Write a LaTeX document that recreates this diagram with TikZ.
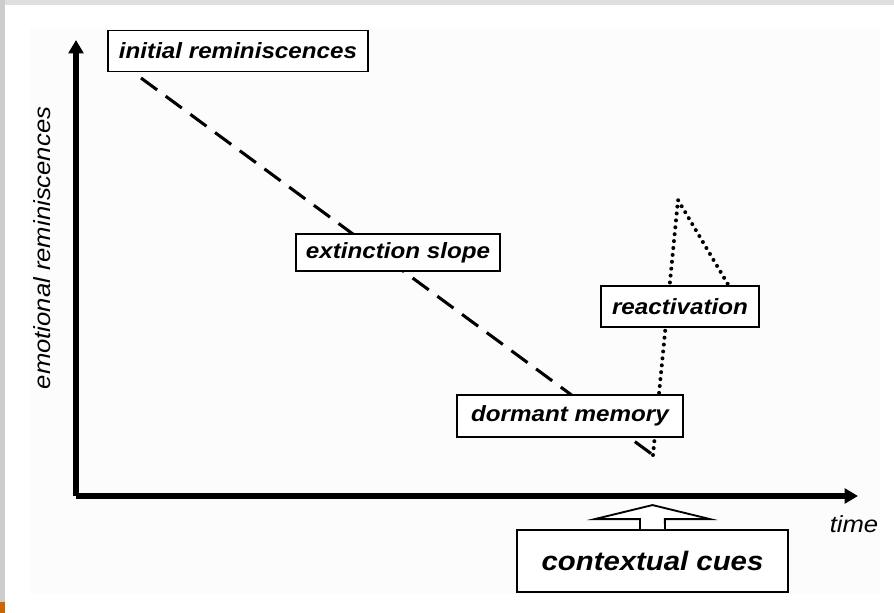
\documentclass[tikz,border=0pt]{standalone}
\usepackage{fontspec}
\setmainfont{Liberation Sans}[FakeStretch=1.1]
\usetikzlibrary{arrows.meta}

\begin{document}
\begin{tikzpicture}[x=0.75pt,y=-0.75pt,
  phase/.style={draw=black,line width=1.4pt,fill=white,inner sep=0pt,
    font=\fontsize{16.5}{18}\selectfont\bfseries\itshape},
  axis/.style={line width=3.8pt,-{Triangle[length=10pt,width=11pt]}},
  slope/.style={line width=2.3pt,dash pattern=on 15pt off 8pt},
  burst/.style={line width=3pt,line cap=round,dash pattern=on 0pt off 5.2pt},
  axislabel/.style={font=\fontsize{17.5}{19}\selectfont\itshape,inner sep=0pt}]
\useasboundingbox (0,0) rectangle (894,613);
% frame
\fill [white] (0,0) rectangle (894,613);
\fill [black!13] (0,0) rectangle (894,5);
\fill [black!20] (0,0) rectangle (5,613);
\fill [orange!80!black] (0,602) rectangle (5,613);
\fill [black!1.2] (30,28) rectangle (880,594);

% axes
\coordinate (origin) at (76,496);
\coordinate (ytip) at (76,40);
\coordinate (xtip) at (858,496);
\draw [axis] (origin) -- (ytip);
\draw [axis] (origin) -- (xtip);
\node [axislabel] (time) at (854,524) {time};
\node [axislabel,rotate=90] (ylab) at (42,248) {emotional reminiscences};

% curves, boxes go on top of them
\coordinate (start) at (141,78);
\coordinate (low) at (653,455);
\coordinate (peak) at (678,200);
\coordinate (back) at (755,330);
\draw [slope] (start) -- (low);
\draw [burst] (low) -- (peak) -- (back);

\node [phase,minimum width=195pt,minimum height=30.8pt] (initial) at (238,51) {initial reminiscences};
\node [phase,minimum width=153pt,minimum height=27.8pt] (extinction) at (398,252.5) {extinction slope};
\node [phase,minimum width=169.5pt,minimum height=31.5pt] (dormant) at (570,416) {dormant memory};
\node [phase,minimum width=118.5pt,minimum height=30.8pt] (reactivation) at (680,306.5) {reactivation};
\node [phase,minimum width=203pt,minimum height=46.5pt,
  font=\fontsize{20}{22}\selectfont\bfseries\itshape] (cues) at (652.5,561) {contextual cues};

% hollow arrow from the cues box up to the time axis
\draw [line width=1.4pt,fill=white]
  ([xshift=-9.4pt]cues.north) -- ++(0,-10) -- ++(-45,0) -- ([yshift=18pt]cues.north)
  -- ([xshift=43pt,yshift=7.5pt]cues.north) -- ++(-45,0) -- ([xshift=9.4pt]cues.north);
\end{tikzpicture}
\end{document}
